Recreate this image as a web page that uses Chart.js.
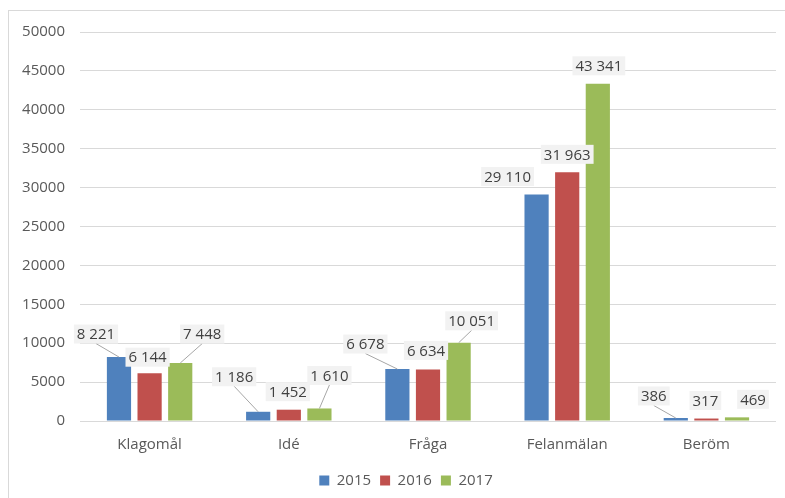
<!DOCTYPE html>
<html>
<head>
<meta charset="utf-8">
<script src="https://cdn.jsdelivr.net/npm/chart.js"></script>
<style>
    html, body { margin: 0; padding: 0; background: #fff; overflow: hidden; }
    #frame { position: absolute; left: 8px; top: 10px; width: 800px; height: 500px; border: 1px solid #d9d9d9; }
    #wrap { position: absolute; left: 0; top: 0; width: 785px; height: 498px; }
</style>
</head>
<body>
<div id="frame"></div>
<div id="wrap"><canvas id="myChart1"></canvas></div>
<script>
var categories = ['Klagomål', 'Idé', 'Fråga', 'Felanmälan', 'Beröm'];
var years = ['2015', '2016', '2017'];
var values2015 = [8221, 1186, 6678, 29110, 386];
var values2016 = [6144, 1452, 6634, 31963, 317];
var values2017 = [7448, 1610, 10051, 43341, 469];
var yTicks = [0, 5000, 10000, 15000, 20000, 25000, 30000, 35000, 40000, 45000, 50000];

// where each data label sits relative to the top of its bar, and whether it gets a leader line
var labelPlacement = [
    [[-23, -23, true], [-24, -35, true], [-32, -25, true], [-29, -18, false], [-22, -22, true]],
    [[-2, -16, false], [-1, -18, false], [-2, -19, false], [0, -18, false], [-1, -18, false]],
    [[22, -29, true], [10, -33, true], [13, -22, true], [1, -18, false], [16, -18, false]]
];

var colors = ['#4f81bd', '#c0504d', '#9bbb59'];
var fontFamily = "'Open Sans', sans-serif";

function formatNumber(v) {
    return String(v).replace(/\B(?=(\d{3})+(?!\d))/g, ' ');
}

var dataLabels = {
    id: 'dataLabels',
    afterDatasetsDraw: function (chart) {
        var c = chart.ctx;
        c.save();
        c.font = '15px ' + fontFamily;
        c.textAlign = 'center';
        c.textBaseline = 'middle';
        chart.data.datasets.forEach(function (ds, i) {
            var meta = chart.getDatasetMeta(i);
            meta.data.forEach(function (bar, j) {
                var p = labelPlacement[i][j];
                var text = formatNumber(ds.data[j]);
                var lx = bar.x + p[0];
                var ly = bar.y + p[1];
                var w = c.measureText(text).width + 6;
                var h = 19;
                if (p[2]) {
                    c.strokeStyle = '#a6a6a6';
                    c.lineWidth = 1;
                    c.beginPath();
                    c.moveTo(lx, ly + h / 2);
                    c.lineTo(bar.x, bar.y);
                    c.stroke();
                }
                c.fillStyle = '#f2f2f2';
                c.fillRect(lx - w / 2, ly - h / 2, w, h);
                c.fillStyle = '#404040';
                c.fillText(text, lx, ly + 1);
            });
        });
        c.restore();
    }
};

// the legend sits a bit right of the canvas centre in the original
var shiftLegend = {
    id: 'shiftLegend',
    afterLayout: function (chart) {
        if (chart.legend) {
            chart.legend.left += 18;
            chart.legend.right += 18;
        }
    }
};

var ctx = document.getElementById('myChart1');
var myChart = new Chart(ctx, {
    type: 'bar',
    data: {
        labels: categories,
        datasets: [
            { label: years[0], data: values2015, backgroundColor: colors[0] },
            { label: years[1], data: values2016, backgroundColor: colors[1] },
            { label: years[2], data: values2017, backgroundColor: colors[2] }
        ]
    },
    options: {
        responsive: true,
        maintainAspectRatio: false,
        animation: false,
        categoryPercentage: 0.66,
        barPercentage: 0.79,
        layout: { padding: { top: 32, right: 9, bottom: 0, left: 0 } },
        plugins: {
            tooltip: { enabled: false },
            legend: {
                position: 'bottom',
                labels: {
                    boxWidth: 10,
                    boxHeight: 10,
                    padding: 9,
                    color: '#595959',
                    font: { family: fontFamily, size: 15 }
                }
            }
        },
        scales: {
            x: {
                grid: { display: false, drawTicks: false },
                border: { display: false },
                ticks: { color: '#595959', padding: 15, font: { family: fontFamily, size: 15 } },
                afterFit: function (scale) { scale.height = 43; }
            },
            y: {
                min: 0,
                max: 50000,
                afterBuildTicks: function (scale) {
                    scale.ticks = yTicks.map(function (v) { return { value: v }; });
                },
                grid: { color: '#d9d9d9', drawTicks: false },
                border: { display: false },
                ticks: {
                    color: '#595959',
                    padding: 15,
                    font: { family: fontFamily, size: 15 },
                    callback: function (value) { return String(value); }
                },
                afterFit: function (scale) { scale.width = 80; }
            }
        }
    },
    plugins: [dataLabels, shiftLegend]
});
</script>
</body>
</html>
